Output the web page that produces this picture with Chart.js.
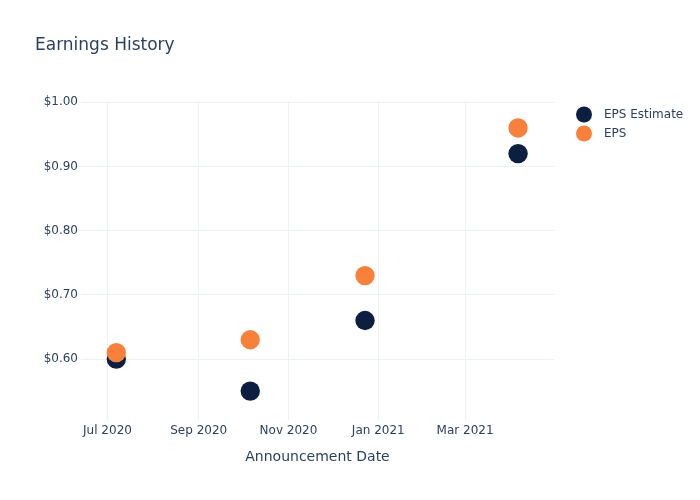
<!DOCTYPE html>
<html>
<head>
<meta charset="utf-8">
<script src="https://cdn.jsdelivr.net/npm/chart.js@4.4.1/dist/chart.umd.min.js"></script>
<style>
  html, body { margin: 0; padding: 0; background: #fff; }
  #wrap { width: 700px; height: 500px; position: relative; }
</style>
</head>
<body>
<div id="wrap"><canvas id="chart" width="700" height="500"></canvas></div>
<script>
const announceDates = ['2020-07-07', '2020-10-06', '2020-12-23', '2021-04-06'];
const epsEstimate = [0.60, 0.55, 0.66, 0.92];
const epsActual = [0.61, 0.63, 0.73, 0.96];

const xTickDates = ['2020-07-01', '2020-09-01', '2020-11-01', '2021-01-01', '2021-03-01'];
const xTickLabels = ['Jul 2020', 'Sep 2020', 'Nov 2020', 'Jan 2021', 'Mar 2021'];
const yTicks = [0.6, 0.7, 0.8, 0.9, 1.0];

const seriesNames = ['EPS Estimate', 'EPS'];
const seriesColors = ['#0c1f40', '#f7813a'];

const textColor = '#2a3f5f';
const gridColor = '#ebf0f8';
const fontFamily = '"DejaVu Sans", Verdana, sans-serif';

const toTime = s => Date.parse(s + 'T00:00:00Z');

function points(values) {
  return values.map((v, i) => ({ x: toTime(announceDates[i]), y: v }));
}

// title and legend drawn like plotly
const extras = {
  id: 'extras',
  afterDraw(chart) {
    const c = chart.ctx;
    c.save();
    c.fillStyle = textColor;
    c.font = '17px ' + fontFamily;
    c.textBaseline = 'alphabetic';
    c.textAlign = 'left';
    c.fillText('Earnings History', 35, 50);

    c.font = '12px ' + fontFamily;
    c.textBaseline = 'middle';
    seriesNames.forEach((name, i) => {
      const y = 114.5 + i * 19;
      c.beginPath();
      c.arc(584, y, 8, 0, Math.PI * 2);
      c.fillStyle = seriesColors[i];
      c.fill();
      c.fillStyle = textColor;
      c.fillText(name, 604, y);
    });
    c.restore();
  }
};

new Chart(document.getElementById('chart'), {
  type: 'scatter',
  data: {
    datasets: [
      {
        label: seriesNames[0],
        data: points(epsEstimate),
        backgroundColor: seriesColors[0],
        pointBorderWidth: 0,
        pointRadius: 9.7,
        order: 1
      },
      {
        label: seriesNames[1],
        data: points(epsActual),
        backgroundColor: seriesColors[1],
        pointBorderWidth: 0,
        pointRadius: 9.7,
        order: 0
      }
    ]
  },
  options: {
    responsive: false,
    animation: false,
    events: [],
    layout: { padding: { left: 0, top: 101.5, right: 146, bottom: 0 } },
    plugins: {
      legend: { display: false },
      tooltip: { enabled: false }
    },
    scales: {
      x: {
        type: 'linear',
        min: toTime('2020-06-13'),
        max: toTime('2021-04-30') + 10 * 3600 * 1000,
        afterBuildTicks: scale => {
          scale.ticks = xTickDates.map(d => ({ value: toTime(d) }));
        },
        afterFit: scale => { scale.height = 80; },
        grid: { color: gridColor, drawTicks: false },
        border: { display: false },
        ticks: {
          color: textColor,
          font: { family: fontFamily, size: 12 },
          padding: 4,
          maxRotation: 0,
          callback: (v, i) => xTickLabels[i]
        },
        title: {
          display: true,
          text: 'Announcement Date',
          color: textColor,
          font: { family: fontFamily, size: 14 },
          padding: { top: 4, bottom: 34 }
        }
      },
      y: {
        min: 0.505,
        max: 1.0012,
        afterBuildTicks: scale => {
          scale.ticks = yTicks.map(v => ({ value: v }));
        },
        afterFit: scale => { scale.width = 81; },
        grid: { color: gridColor, drawTicks: false },
        border: { display: false },
        ticks: {
          color: textColor,
          font: { family: fontFamily, size: 12 },
          padding: 3,
          callback: v => '$' + v.toFixed(2)
        }
      }
    }
  },
  plugins: [extras]
});
</script>
</body>
</html>
